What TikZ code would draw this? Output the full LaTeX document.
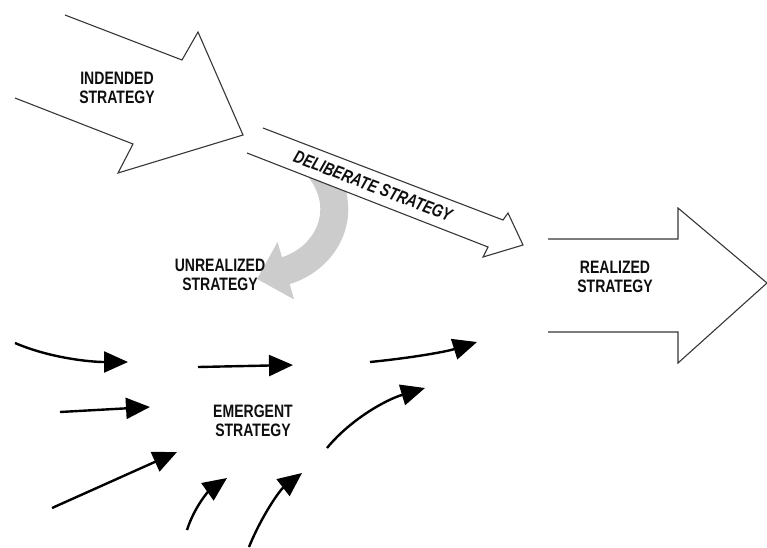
\documentclass[tikz,border=0pt]{standalone}
\usepackage{fontspec}
\usetikzlibrary{arrows.meta}
\newfontfamily\lblfont[FakeStretch=0.78]{Liberation Sans}
\definecolor{edge}{RGB}{55,55,55}
\definecolor{ink}{RGB}{15,15,15}
\begin{document}
\begin{tikzpicture}[x=1pt,y=-1pt,
		lbl/.style={font=\lblfont\bfseries\fontsize{18}{19}\selectfont, text=ink, align=center, inner sep=0pt},
		outline/.style={draw=edge, line width=1.1pt, line join=miter, fill=white},
		flow/.style={line width=2.4pt, -{Triangle[length=24pt,width=21pt]}}]
		\useasboundingbox (0,0) rectangle (767,547);
		
		% unrealized part, under the deliberate arrow
		\draw[line width=28pt, gray!40, -{Triangle[length=30pt,width=58pt]}]
		(314,162) .. controls (354,205) and (330,258) .. (257,279);
		
		% big arrows
		\filldraw[outline] (65,15) -- (182,60) -- (198,32) -- (243,135) -- (118,173) -- (133,144) -- (15,98);
		\filldraw[outline] (263,128) -- (503,220) -- (508,213) -- (523,245) -- (483,257) -- (488,247) -- (247,153);
		\filldraw[outline] (548,239) -- (678,239) -- (678,208) -- (767,283) -- (678,363) -- (678,332) -- (548,332);
		
		\node[lbl] (intended) at (117,88) {INDENDED\\STRATEGY};
		\node[lbl, rotate=-21] (deliberate) at (373,186) {\itshape DELIBERATE STRATEGY};
		\node[lbl] (unrealized) at (220,275) {UNREALIZED\\STRATEGY};
		\node[lbl] (realized) at (615,277) {REALIZED\\STRATEGY};
		\node[lbl] (emergent) at (253,421) {EMERGENT\\STRATEGY};
		
		% emergent arrows
		\draw[flow] (15,343) .. controls (50,358) and (90,362) .. (128,362);
		\draw[flow] (198,367) -- (293,365);
		\draw[flow] (370,362) .. controls (410,358) and (445,352) .. (477,342);
		\draw[flow] (60,412) -- (150,407);
		\draw[flow] (52,508) -- (177,452);
		\draw[flow] (327,448) .. controls (350,420) and (385,400) .. (425,388);
		\draw[flow] (187,530) .. controls (195,505) and (210,490) .. (227,478);
		\draw[flow] (249,547) .. controls (262,515) and (280,490) .. (302,473);
		\end{tikzpicture}
\end{document}
